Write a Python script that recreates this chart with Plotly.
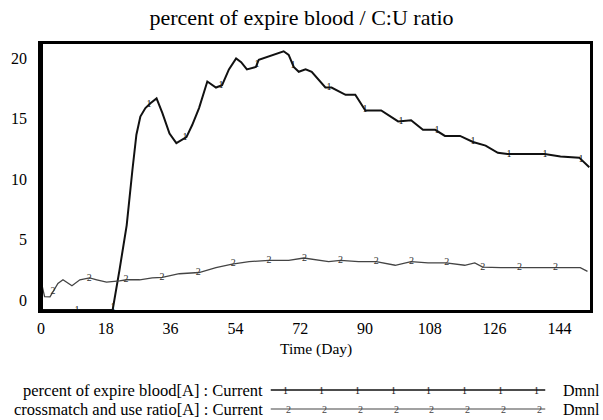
import numpy as np
import plotly.graph_objects as go

# ---- data ----
days_expire = [0, 10.5, 19.9, 21.8, 23.8, 25.4, 26.5, 27.6, 29.0, 30.4, 32.1, 33.7, 35.7,
               37.6, 40.4, 42.0, 43.9, 46.2, 48.6, 50.3, 52.2, 54.2, 55.6, 57.2, 59.7,
               60.5, 63.3, 67.4, 68.8, 70.2, 71.6, 73.5, 75.2, 79.0, 80.7, 84.6, 87.3,
               90.1, 94.5, 99.2, 102.8, 106.1, 109.5, 112.2, 116.4, 120.0, 123.5, 126.9,
               129.6, 139.9, 144.3, 149.5, 152.3]
pct_expire = [0, 0, 0, 3.3, 7.0, 11.6, 14.5, 16.0, 16.7, 17.1, 17.5, 16.3, 14.6,
              13.8, 14.3, 15.3, 16.7, 18.9, 18.4, 18.6, 19.9, 20.8, 20.5, 19.9, 20.1,
              20.7, 21.0, 21.4, 21.1, 20.1, 19.7, 19.9, 19.7, 18.4, 18.4, 17.8, 17.8,
              16.5, 16.5, 15.6, 15.7, 14.9, 14.9, 14.4, 14.4, 13.9, 13.6, 13.0,
              12.9, 12.9, 12.7, 12.6, 11.8]

days_cu = [0, 1.0, 2.5, 3.3, 4.7, 6.1, 8.6, 10.8, 13.5, 15.5, 18.2, 21.8, 23.8, 27.4,
           30.9, 33.7, 38.4, 43.9, 48.6, 53.1, 57.8, 63.3, 68.8, 73.0, 77.1, 79.9,
           83.2, 88.2, 93.1, 98.4, 102.8, 107.5, 112.5, 117.7, 120.5, 122.7, 127.7,
           131.6, 133.2, 138.7, 142.9, 149.8, 151.8]
cu_ratio = [2.4, 1.1, 1.08, 1.5, 2.2, 2.5, 2.0, 2.5, 2.65, 2.5, 2.3, 2.4, 2.5, 2.5,
            2.65, 2.7, 3.0, 3.1, 3.5, 3.8, 4.0, 4.1, 4.1, 4.3, 4.1, 4.0,
            4.1, 4.0, 4.0, 3.7, 4.0, 3.9, 3.9, 3.7, 3.9, 3.55, 3.5,
            3.5, 3.55, 3.5, 3.55, 3.5, 3.2]

marker_days_expire = [0, 10, 20, 30, 40, 50, 60, 70, 80, 90, 100, 110, 120, 130, 140, 150]
marker_days_cu = [3.3, 13.4, 23.6, 33.6, 43.7, 53.4, 63.3, 73.2, 83.2, 93.1, 102.9,
                  112.7, 122.7, 132.9, 142.9]

x_ticks = [0, 18, 36, 54, 72, 90, 108, 126, 144]
y_ticks = [0, 5, 10, 15, 20]

series_names = ["percent of expire blood[A] : Current", "crossmatch and use ratio[A] : Current"]
unit_label = "Dmnl"
title_text = "percent of expire blood / C:U ratio"
x_title = "Time (Day)"

SERIF = "Liberation Serif, Times New Roman, serif"
W, H = 603, 420
L, R, T, B = 41, 593, 44, 310


def px(x):
    return (x - L) / (R - L)


def py(y):
    return (B - y) / (B - T)


fig = go.Figure()
fig.add_trace(go.Scatter(x=days_expire, y=pct_expire, mode="lines",
                         line=dict(color="#111111", width=2), hoverinfo="skip"))
fig.add_trace(go.Scatter(x=days_cu, y=cu_ratio, mode="lines",
                         line=dict(color="#444444", width=1.3), hoverinfo="skip"))
fig.add_trace(go.Scatter(x=marker_days_expire,
                         y=np.interp(marker_days_expire, days_expire, pct_expire),
                         mode="text", text=["1"] * len(marker_days_expire),
                         textfont=dict(family=SERIF, size=10, color="#111111"),
                         textposition="middle center", hoverinfo="skip"))
fig.add_trace(go.Scatter(x=marker_days_cu,
                         y=np.interp(marker_days_cu, days_cu, cu_ratio),
                         mode="text", text=["2"] * len(marker_days_cu),
                         textfont=dict(family=SERIF, size=10, color="#333333"),
                         textposition="middle center", hoverinfo="skip"))

shapes = [
    # thicker left frame
    dict(type="line", xref="paper", yref="paper", x0=0, x1=0, y0=0, y1=1,
         line=dict(color="black", width=4)),
]
annotations = [
    dict(text=x_title, xref="paper", yref="paper", x=px(318), y=py(349),
         xanchor="center", yanchor="middle", showarrow=False,
         font=dict(family=SERIF, size=15.5, color="black")),
]

# legend rows
rows = [(390, "#111111", 1.6, "1"), (409, "#444444", 1.2, "2")]
for (ry, col, lw, digit), name in zip(rows, series_names):
    annotations.append(dict(text=name, xref="paper", yref="paper", x=px(266), y=py(ry),
                            xanchor="right", yanchor="middle", showarrow=False,
                            font=dict(family=SERIF, size=16.5, color="black")))
    annotations.append(dict(text=unit_label, xref="paper", yref="paper", x=px(564), y=py(ry),
                            xanchor="left", yanchor="middle", showarrow=False,
                            font=dict(family=SERIF, size=16, color="black")))
    shapes.append(dict(type="line", xref="paper", yref="paper", x0=px(272), x1=px(548),
                       y0=py(ry), y1=py(ry), line=dict(color=col, width=lw)))
    start = 287 if digit == "1" else 290
    for k in range(8):
        annotations.append(dict(text=digit, xref="paper", yref="paper", x=px(start + 36 * k),
                                y=py(ry), xanchor="center", yanchor="middle", showarrow=False,
                                font=dict(family=SERIF, size=10, color=col)))

fig.update_layout(
    width=W, height=H,
    margin=dict(l=L, r=W - R, t=T, b=H - B),
    paper_bgcolor="white", plot_bgcolor="white",
    showlegend=False,
    title=dict(text=title_text, x=0.5, xanchor="center", y=1 - 17 / H, yanchor="middle",
               font=dict(family=SERIF, size=22, color="black")),
    shapes=shapes, annotations=annotations,
)
fig.update_xaxes(range=[0, 152.5], tickvals=x_ticks, ticktext=[str(v) for v in x_ticks],
                 showgrid=False, zeroline=False, showline=True, linecolor="black",
                 linewidth=2.5, mirror=True, ticks="", ticklabelstandoff=2,
                 tickfont=dict(family=SERIF, size=16, color="black"))
fig.update_yaxes(range=[0, 22], tickvals=y_ticks, ticktext=[str(v) for v in y_ticks],
                 showgrid=False, zeroline=False, showline=True, linecolor="black",
                 linewidth=2.5, mirror=True, ticks="", ticklabelshift=-10,
                 ticklabelstandoff=8,
                 tickfont=dict(family=SERIF, size=16, color="black"))

fig.write_html("out.html", config={"displayModeBar": False},
               post_script="document.body.style.margin='0';")
